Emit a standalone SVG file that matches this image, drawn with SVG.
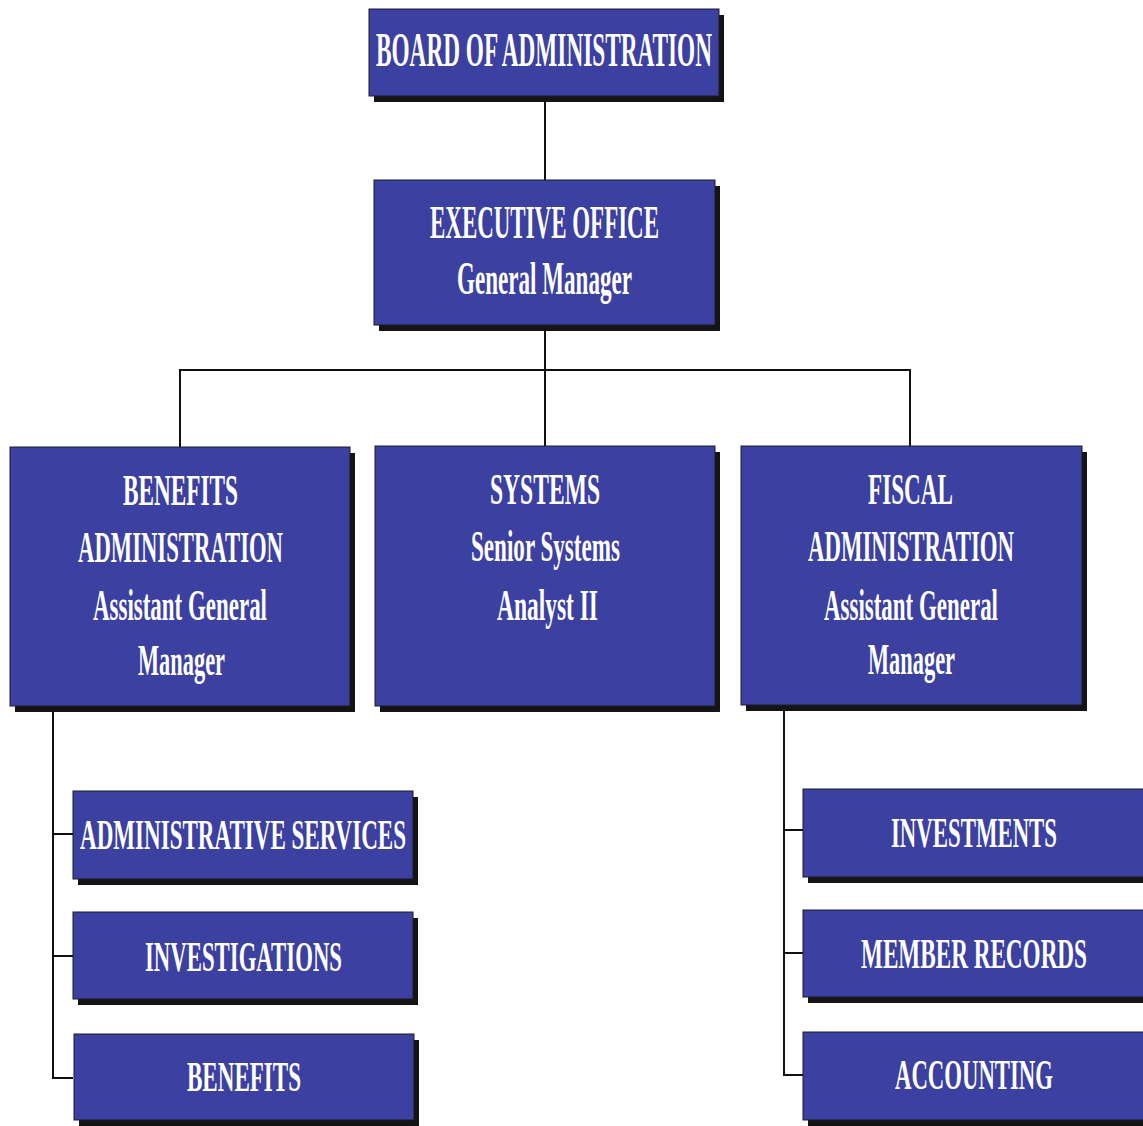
<svg xmlns="http://www.w3.org/2000/svg" width="1143" height="1126" viewBox="0 0 1143 1126">
<style>
.sh{fill:#141414}
.bx{fill:#3c40a0;stroke:#1a1a2a;stroke-width:1}
.t{fill:#ffffff;font-family:"Liberation Serif","Times New Roman",serif;font-weight:bold;text-anchor:middle}
.c{stroke:#111;stroke-width:2;fill:none}
</style>
<rect width="1143" height="1126" fill="#ffffff"/>
<g id="connectors">
<line class="c" x1="545" y1="100" x2="545" y2="180"/>
<line class="c" x1="545" y1="330" x2="545" y2="447"/>
<line class="c" x1="179" y1="370" x2="911" y2="370"/>
<line class="c" x1="180" y1="369" x2="180" y2="447"/>
<line class="c" x1="910" y1="369" x2="910" y2="446"/>
<polyline class="c" points="53,711 53,1078 73,1078"/>
<line class="c" x1="53" y1="834" x2="73" y2="834"/>
<line class="c" x1="53" y1="956" x2="73" y2="956"/>
<polyline class="c" points="784,710 784,1075 803,1075"/>
<line class="c" x1="784" y1="830" x2="803" y2="830"/>
<line class="c" x1="784" y1="953" x2="803" y2="953"/>
</g>
<g id="board">
<rect class="sh" x="374" y="15" width="350" height="87"/>
<rect class="bx" x="369" y="9" width="350" height="87"/>
<text class="t" x="544" y="66" font-size="48" textLength="336" lengthAdjust="spacingAndGlyphs">BOARD OF ADMINISTRATION</text>
</g>
<g id="executive">
<rect class="sh" x="379" y="186" width="341" height="145"/>
<rect class="bx" x="374" y="180" width="341" height="145"/>
<text class="t" x="544.5" y="238" font-size="46" textLength="229" lengthAdjust="spacingAndGlyphs">EXECUTIVE OFFICE</text>
<text class="t" x="544.5" y="294" font-size="46" textLength="175" lengthAdjust="spacingAndGlyphs">General Manager</text>
</g>
<g id="benefits-admin">
<rect class="sh" x="15" y="453" width="340" height="259"/>
<rect class="bx" x="10" y="447" width="340" height="259"/>
<text class="t" x="180.5" y="505" font-size="45" textLength="115" lengthAdjust="spacingAndGlyphs">BENEFITS</text>
<text class="t" x="180.5" y="562" font-size="45" textLength="205" lengthAdjust="spacingAndGlyphs">ADMINISTRATION</text>
<text class="t" x="180" y="620" font-size="45" textLength="174" lengthAdjust="spacingAndGlyphs">Assistant General</text>
<text class="t" x="181.5" y="675" font-size="45" textLength="87" lengthAdjust="spacingAndGlyphs">Manager</text>
</g>
<g id="systems">
<rect class="sh" x="380" y="452" width="340" height="260"/>
<rect class="bx" x="375" y="446" width="340" height="260"/>
<text class="t" x="545" y="504" font-size="45" textLength="110" lengthAdjust="spacingAndGlyphs">SYSTEMS</text>
<text class="t" x="545.5" y="561" font-size="44" textLength="149" lengthAdjust="spacingAndGlyphs">Senior Systems</text>
<text class="t" x="547.5" y="620" font-size="45" textLength="101" lengthAdjust="spacingAndGlyphs">Analyst II</text>
</g>
<g id="fiscal-admin">
<rect class="sh" x="746" y="452" width="341" height="259"/>
<rect class="bx" x="741" y="446" width="341" height="259"/>
<text class="t" x="910.5" y="504" font-size="45" textLength="85" lengthAdjust="spacingAndGlyphs">FISCAL</text>
<text class="t" x="911" y="561" font-size="45" textLength="206" lengthAdjust="spacingAndGlyphs">ADMINISTRATION</text>
<text class="t" x="911" y="620" font-size="45" textLength="174" lengthAdjust="spacingAndGlyphs">Assistant General</text>
<text class="t" x="911.5" y="674" font-size="45" textLength="87" lengthAdjust="spacingAndGlyphs">Manager</text>
</g>
<g id="administrative-services">
<rect class="sh" x="78" y="797" width="340" height="88"/>
<rect class="bx" x="73" y="791" width="340" height="88"/>
<text class="t" x="243" y="849" font-size="43" textLength="326" lengthAdjust="spacingAndGlyphs">ADMINISTRATIVE SERVICES</text>
</g>
<g id="investigations">
<rect class="sh" x="78" y="918" width="340" height="87"/>
<rect class="bx" x="73" y="912" width="340" height="87"/>
<text class="t" x="243.5" y="971" font-size="43" textLength="197" lengthAdjust="spacingAndGlyphs">INVESTIGATIONS</text>
</g>
<g id="benefits">
<rect class="sh" x="79" y="1040" width="340" height="86"/>
<rect class="bx" x="74" y="1034" width="340" height="86"/>
<text class="t" x="244" y="1091" font-size="43" textLength="114" lengthAdjust="spacingAndGlyphs">BENEFITS</text>
</g>
<g id="investments">
<rect class="sh" x="808" y="795" width="345" height="88"/>
<rect class="bx" x="803" y="789" width="345" height="88"/>
<text class="t" x="974" y="847" font-size="43" textLength="166" lengthAdjust="spacingAndGlyphs">INVESTMENTS</text>
</g>
<g id="member-records">
<rect class="sh" x="808" y="916" width="345" height="87"/>
<rect class="bx" x="803" y="910" width="345" height="87"/>
<text class="t" x="974" y="968" font-size="43" textLength="226" lengthAdjust="spacingAndGlyphs">MEMBER RECORDS</text>
</g>
<g id="accounting">
<rect class="sh" x="808" y="1038" width="345" height="88"/>
<rect class="bx" x="803" y="1032" width="345" height="88"/>
<text class="t" x="974" y="1089" font-size="43" textLength="158" lengthAdjust="spacingAndGlyphs">ACCOUNTING</text>
</g>
</svg>
